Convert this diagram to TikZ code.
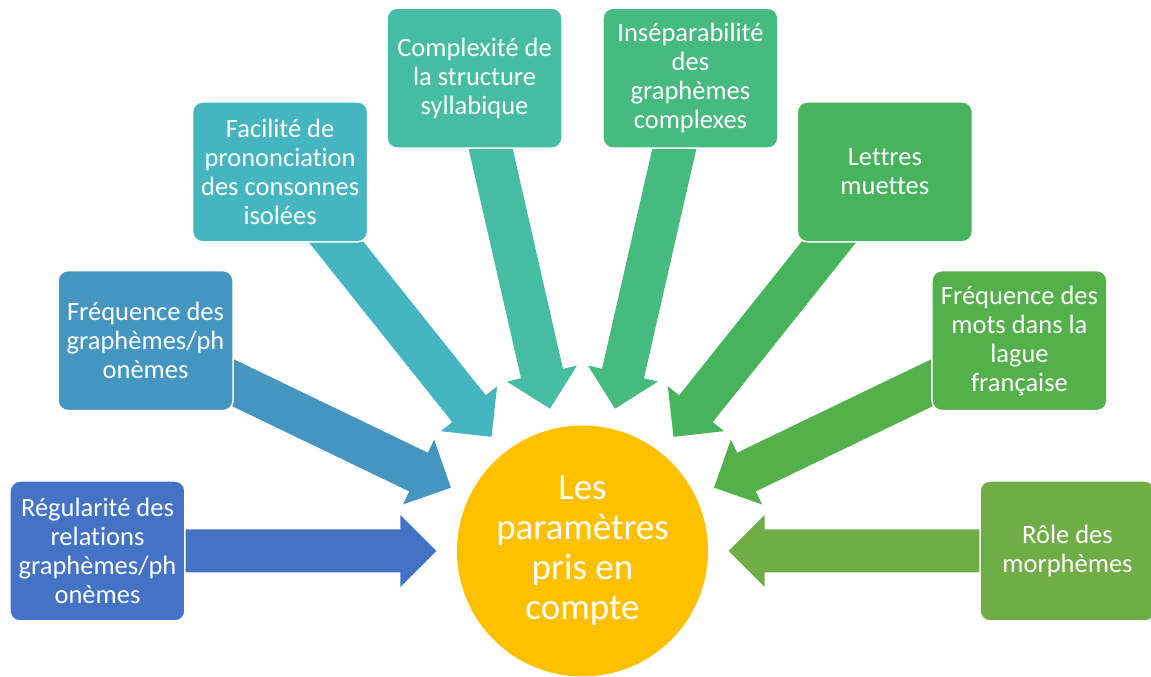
\documentclass[tikz,border=0pt]{standalone}
\usepackage{fontspec}
\setmainfont{Carlito}[Ligatures=NoCommon]
\usetikzlibrary{calc,backgrounds}

\definecolor{bleuA}{HTML}{4472C4}
\definecolor{bleuB}{HTML}{4496C1}
\definecolor{turqA}{HTML}{45B6C0}
\definecolor{turqB}{HTML}{46BDA2}
\definecolor{vertA}{HTML}{47BA7F}
\definecolor{vertB}{HTML}{47B45D}
\definecolor{vertC}{HTML}{54B04A}
\definecolor{vertD}{HTML}{70AD47}
\definecolor{jaune}{HTML}{FFC000}

\begin{document}
\begin{tikzpicture}[x=1pt,y=1pt,
  param/.style={rectangle,rounded corners=10pt,draw=white,line width=1.5pt,
    minimum width=175pt,minimum height=140pt,inner sep=2pt,align=center,
    text=white,font=\fontsize{26.5}{29}\selectfont},
  centre/.style={circle,fill=jaune,minimum size=251pt,inner sep=0pt,
    align=center,text=white,font=\fontsize{37}{40}\selectfont}]
\useasboundingbox (-582.5,-126) rectangle (568.5,551);
\clip (-582.5,-126) rectangle (568.5,551);

% centre
\node[centre] (c) at (0,0) {Les\\paramètres\\pris en\\compte};

% parametres
\node[param,fill=bleuA] (p1) at (180:485) {Régularité des\\relations\\graphèmes/ph\\onèmes};
\node[param,fill=bleuB] (p2) at (154.29:485) {Fréquence des\\graphèmes/ph\\onèmes};
\node[param,fill=turqA] (p3) at (128.57:485) {Facilité de\\prononciation\\des consonnes\\isolées};
\node[param,fill=turqB] (p4) at (102.86:485) {Complexité de\\la structure\\syllabique};
\node[param,fill=vertA] (p5) at (77.14:485) {Inséparabilité\\des\\graphèmes\\complexes};
\node[param,fill=vertB] (p6) at (51.43:485) {Lettres\\muettes};
\node[param,fill=vertC] (p7) at (25.71:485) {Fréquence des\\mots dans la\\lague\\française};
\node[param,fill=vertD] (p8) at (0:485) {Rôle des\\morphèmes};

% fleches
\begin{scope}[on background layer]
\foreach \p/\col in {p1/bleuA,p2/bleuB,p3/turqA,p4/turqB,p5/vertA,p6/vertB,p7/vertC,p8/vertD}{
  \coordinate (tip) at ($(c.center)!146pt!(\p.center)$);
  \coordinate (neck) at ($(tip)!36pt!(\p.center)$);
  \fill[\col] ($(\p.center)!21.5pt!90:(tip)$) -- ($(neck)!21.5pt!90:(tip)$)
    -- ($(neck)!36pt!90:(tip)$) -- (tip) -- ($(neck)!36pt!-90:(tip)$)
    -- ($(neck)!21.5pt!-90:(tip)$) -- ($(\p.center)!21.5pt!-90:(tip)$) -- cycle;
}
\end{scope}
\end{tikzpicture}
\end{document}
